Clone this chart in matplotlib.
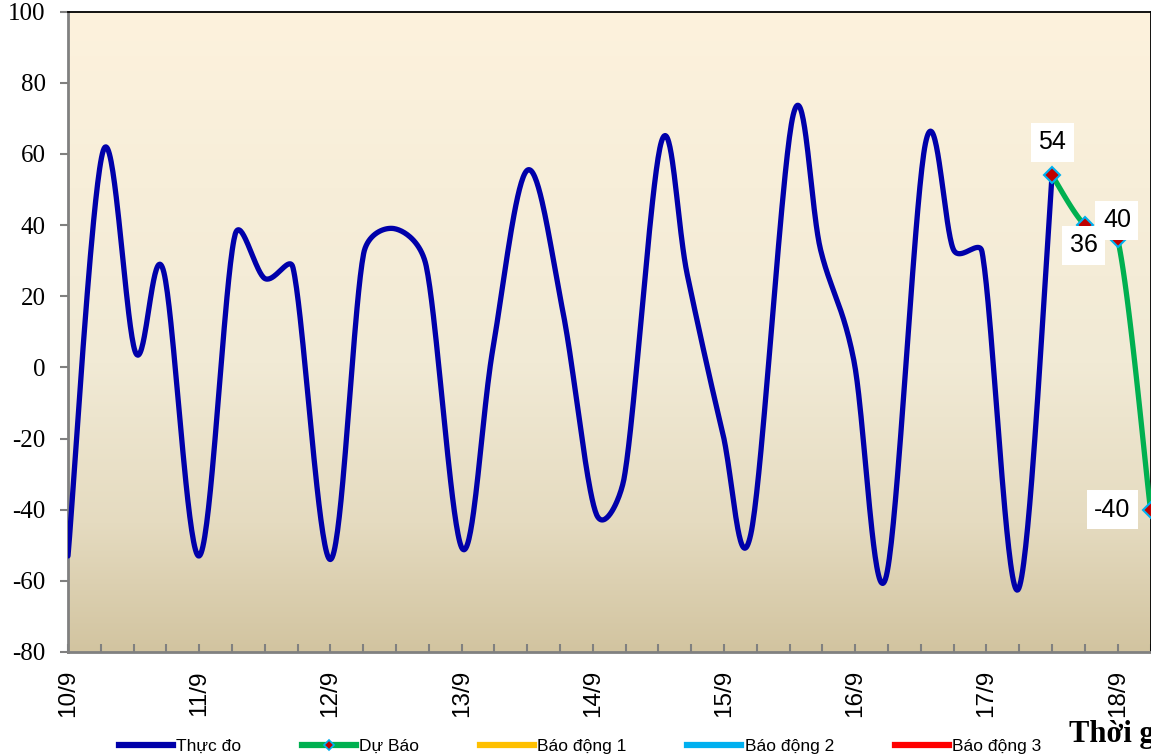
import numpy as np
import matplotlib
matplotlib.use('Agg')
import matplotlib.pyplot as plt
from matplotlib.colors import LinearSegmentedColormap
from matplotlib.lines import Line2D

plt.rcParams['font.family'] = ['Liberation Sans', 'DejaVu Sans']

# time in days after 10/9 00h, water level
obs_t = [0.0, 0.269, 0.517, 0.725, 1.0, 1.271, 1.5, 1.715, 2.0, 2.253, 2.489, 2.73,
         3.006, 3.237, 3.503, 3.77, 4.024, 4.239, 4.523, 4.72, 4.987, 5.203, 5.527,
         5.736, 5.989, 6.23, 6.535, 6.75, 6.966, 7.24, 7.5]
obs_v = [-53, 61, 4, 27.5, -53, 37, 25, 28, -54, 32, 39, 28.5,
         -51, 5, 55.5, 16, -41, -31, 63.5, 26, -18, -47, 71,
         33, 2, -59.5, 63, 33, 32.5, -62.5, 54]

fc_t = [7.5, 7.75, 8.0, 8.25]
fc_v = [54, 40, 36, -40]
fc_labels = ['54', '40', '36', '-40']
# label offsets in pixels (manually placed in original)
fc_offsets = [(0, 33), (32, 5), (-34, -6), (-38, 0)]

day_labels = ['10/9', '11/9', '12/9', '13/9', '14/9', '15/9', '16/9', '17/9', '18/9']
yticks = list(range(-80, 101, 20))


def smooth(xs, ys, sx, sy, n=40):
    # excel-ish smoothed line: bezier, tangent length capped at half the segment
    P = np.column_stack([np.asarray(xs, float) * sx, np.asarray(ys, float) * sy])
    P = np.vstack([P[0], P, P[-1]])
    out = []
    tt = np.linspace(0, 1, n)[:, None]
    for i in range(1, len(P) - 2):
        p0, p1, p2, p3 = P[i - 1], P[i], P[i + 1], P[i + 2]
        d12 = np.hypot(*(p2 - p1))
        v1 = (p2 - p0) / 6
        v2 = (p3 - p1) / 6
        n1 = np.hypot(*v1)
        n2 = np.hypot(*v2)
        if n1 > d12 / 2:
            v1 = v1 * (d12 / 2) / n1
        if n2 > d12 / 2:
            v2 = v2 * (d12 / 2) / n2
        c1 = p1 + v1
        c2 = p2 - v2
        seg = (1 - tt) ** 3 * p1 + 3 * (1 - tt) ** 2 * tt * c1 + 3 * (1 - tt) * tt ** 2 * c2 + tt ** 3 * p2
        out.append(seg)
    arr = np.vstack(out)
    return arr[:, 0] / sx, arr[:, 1] / sy


W, H = 1151, 755
fig = plt.figure(figsize=(W / 100, H / 100), dpi=100)
left, right, top, bottom = 68, 1150.5, 11.7, 652
ax = fig.add_axes([left / W, (H - bottom) / H, (right - left) / W, (bottom - top) / H])

xmax = 8.25
ax.set_xlim(0, xmax)
ax.set_ylim(-80, 100)

# background gradient
cmap = LinearSegmentedColormap.from_list('bg', [(0, '#D2C4A0'), (0.2, '#E5DBC0'),
                                                 (0.45, '#F1EAD5'), (1.0, '#FDF2DD')])
grad = np.linspace(0, 1, 256)[:, None]
ax.imshow(grad, extent=[0, xmax, -80, 100], origin='lower', aspect='auto', cmap=cmap, zorder=0)

sx = (right - left) / xmax
sy = (bottom - top) / 180.0

bx, by = smooth(obs_t, obs_v, sx, sy)
ax.plot(bx, by, color='#0000AA', lw=3.8, solid_capstyle='round', zorder=3)

gx, gy = smooth(fc_t, fc_v, sx, sy)
ax.plot(gx, gy, color='#00B050', lw=3.8, zorder=4, clip_on=False)
ax.plot(fc_t, fc_v, ls='none', marker='D', markersize=8.5, markerfacecolor='#C00000',
        markeredgecolor='#00B0F0', markeredgewidth=1.5, zorder=5, clip_on=False)

for t, v, lab, off in zip(fc_t, fc_v, fc_labels, fc_offsets):
    ax.annotate(lab, (t, v), xytext=off, textcoords='offset pixels', ha='center', va='center',
                fontsize=18, color='black', zorder=6, annotation_clip=False,
                bbox=dict(boxstyle='square,pad=0.3', fc='white', ec='none'))

# axes styling
for s in ['left', 'bottom']:
    ax.spines[s].set_color('#808080')
    ax.spines[s].set_linewidth(2)
ax.spines['top'].set_color('black')
ax.spines['top'].set_linewidth(1.3)
ax.spines['right'].set_color('black')
ax.spines['right'].set_linewidth(1.3)

ax.set_yticks(yticks)
ax.set_yticklabels([str(v) for v in yticks], family='Liberation Serif', fontsize=18)
ax.tick_params(axis='y', direction='out', length=6, width=1.5, color='#808080', pad=10)

ax.set_xticks(np.arange(0, 9))
ax.set_xticklabels(day_labels, rotation=90, fontsize=17.5)
ax.set_xticks(np.arange(0, xmax + 0.01, 0.25), minor=True)
ax.tick_params(axis='x', which='both', direction='in', length=6, width=1.5, color='#808080')
ax.tick_params(axis='x', which='major', pad=13)

fig.text(1069 / W, (H - 742) / H, 'Thời gian', family='Liberation Serif', fontweight='bold',
         fontsize=22, ha='left', va='baseline')

handles = [
    Line2D([], [], color='#0000AA', lw=4.5),
    Line2D([], [], color='#00B050', lw=4.5, marker='D', markersize=5,
           markerfacecolor='#C00000', markeredgecolor='#00B0F0', markeredgewidth=1.2),
    Line2D([], [], color='#FFC000', lw=4.5),
    Line2D([], [], color='#00B0F0', lw=4.5),
    Line2D([], [], color='#FF0000', lw=4.5),
]
names = ['Thực đo', 'Dự Báo', 'Báo động 1', 'Báo động 2', 'Báo động 3']
fig.legend(handles, names, loc='center', bbox_to_anchor=(580 / W, (H - 746) / H), ncol=5,
           frameon=False, fontsize=12.5, handlelength=3.1, handletextpad=0.2,
           columnspacing=3.5, borderpad=0)

fig.savefig('out.png', dpi=100)
